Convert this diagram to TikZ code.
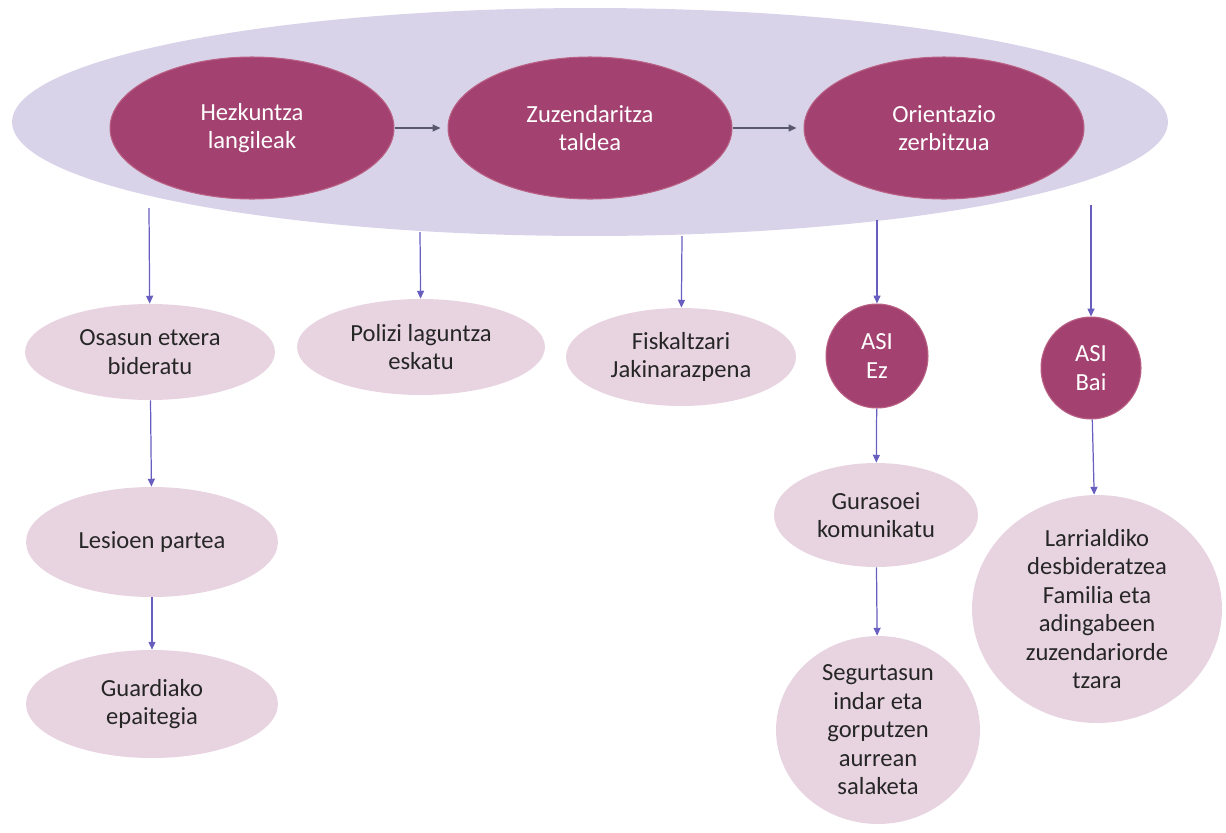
\documentclass[tikz,border=0pt]{standalone}
\usepackage{fontspec}
\setmainfont{Carlito}
\usetikzlibrary{shapes.geometric,arrows.meta}
\definecolor{lavender}{RGB}{217,211,234}
\definecolor{plum}{RGB}{163,66,112}
\definecolor{blush}{RGB}{232,212,225}
\definecolor{linkblue}{RGB}{104,94,192}
\definecolor{linkgray}{RGB}{88,88,110}
\tikzset{
  group/.style={ellipse, fill=lavender, inner sep=0pt},
  actor/.style={ellipse, fill=plum, draw=plum!75!pink, line width=0.6pt, text=white, align=center, inner sep=0pt},
  action/.style={ellipse, fill=blush, text=black!85, align=center, inner sep=0pt},
  flow/.style={draw=linkgray, line width=0.7pt, -{Triangle[length=4.5pt,width=4pt]}, shorten >=4pt},
  link/.style={draw=linkblue, line width=0.7pt, -{Triangle[length=4.5pt,width=4pt]}}
}
\begin{document}
\begin{tikzpicture}[x=0.02cm, y=-0.02cm, font=\fontsize{14}{16.2}\selectfont]
      \useasboundingbox (0,0) rectangle (1226,832);
      \node[group, minimum width=23.12cm, minimum height=4.56cm] (team) at (590, 122) {};
      \node[actor, minimum width=5.68cm, minimum height=2.84cm] (hezk) at (252, 128) {Hezkuntza\\langileak};
      \node[actor, minimum width=5.68cm, minimum height=2.84cm] (zuzen) at (590, 128) {Zuzendaritza\\taldea};
      \node[actor, minimum width=5.6cm, minimum height=2.84cm] (orient) at (944, 128) {Orientazio\\zerbitzua};
      \node[action, minimum width=5cm, minimum height=1.92cm] (osasun) at (150, 352) {Osasun etxera\\bideratu};
      \node[action, minimum width=4.96cm, minimum height=1.92cm] (polizi) at (421, 347) {Polizi laguntza\\eskatu};
      \node[action, minimum width=4.6cm, minimum height=1.96cm] (fiskal) at (681, 357) {Fiskaltzari\\Jakinarazpena};
      \node[actor, minimum width=2.04cm, minimum height=2.08cm] (asiez) at (877, 356) {ASI\\Ez};
      \node[actor, minimum width=2cm, minimum height=2.04cm] (asibai) at (1091, 368) {ASI\\Bai};
      \node[action, minimum width=5.04cm, minimum height=2.2cm] (lesio) at (152, 542) {Lesioen partea};
      \node[action, minimum width=5.04cm, minimum height=2.16cm] (guardia) at (152, 704) {Guardiako\\epaitegia};
      \node[action, minimum width=4.08cm, minimum height=2.08cm] (guraso) at (876, 515) {Gurasoei\\komunikatu};
      \node[action, minimum width=4.08cm, minimum height=3.76cm] (segur) at (878, 730) {Segurtasun\\indar eta\\gorputzen\\aurrean\\salaketa};
      \node[action, minimum width=5cm, minimum height=4.56cm] (larri) at (1097, 609) {Larrialdiko\\desbideratzea\\Familia eta\\adingabeen\\zuzendariorde\\tzara};

      \coordinate (from1) at (149, 208);
      \coordinate (from2) at (420, 232);
      \coordinate (from3) at (682, 236);
      \coordinate (from4) at (877, 220);
      \coordinate (from5) at (1091, 205);

      \foreach \source/\dest in {hezk/zuzen, zuzen/orient}
        \path[flow] (\source) -- (\dest);
      \foreach \source/\dest in {from1/osasun, from2/polizi, from3/fiskal, from4/asiez, from5/asibai, osasun/lesio, lesio/guardia, asiez/guraso, guraso/segur, asibai/larri}
        \path[link] (\source) -- (\dest);
    \end{tikzpicture}
\end{document}
